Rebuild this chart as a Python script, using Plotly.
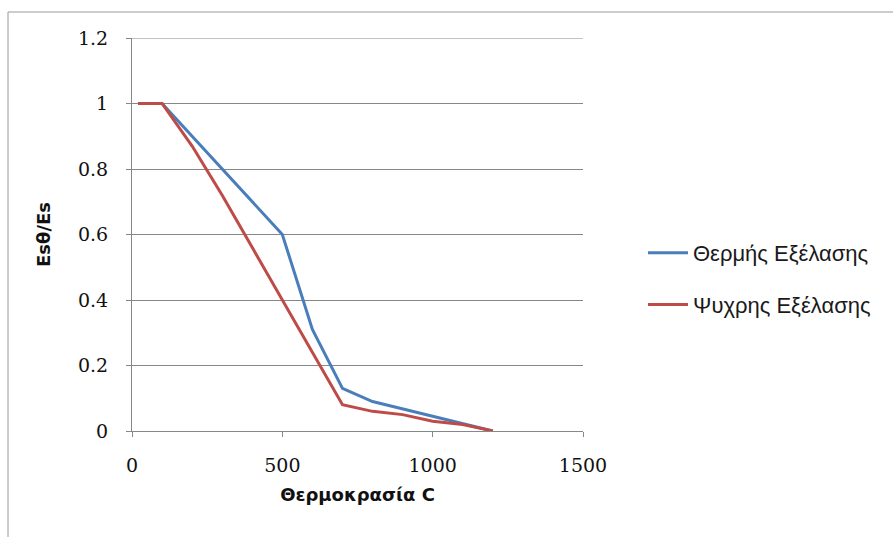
import plotly.graph_objects as go

# Temperature (°C) and stiffness reduction factor Esθ/Es
temperature = [20, 100, 200, 300, 400, 500, 600, 700, 800, 900, 1000, 1100, 1200]
hot_rolled = [1.0, 1.0, 0.9, 0.8, 0.7, 0.6, 0.31, 0.13, 0.09, 0.0675, 0.045, 0.0225, 0.0]
cold_worked = [1.0, 1.0, 0.87, 0.72, 0.56, 0.40, 0.24, 0.08, 0.06, 0.05, 0.03, 0.02, 0.0]
series_names = ["Θερμής Εξέλασης", "Ψυχρης Εξέλασης"]
x_ticks = [0, 500, 1000, 1500]
y_ticks = [0, 0.2, 0.4, 0.6, 0.8, 1.0, 1.2]
y_tick_text = ["0", "0.2", "0.4", "0.6", "0.8", "1", "1.2"]
x_range = [0, 1500]
y_range = [0, 1.2]

W, H = 893, 537
L, R, T, B = 132, 583, 38, 431

fig = go.Figure()
fig.add_trace(go.Scatter(x=temperature, y=hot_rolled, mode="lines", name=series_names[0],
                         legendgroup="a", line=dict(color="#4A7EBB", width=3)))
fig.add_trace(go.Scatter(x=temperature, y=cold_worked, mode="lines", name=series_names[1],
                         legendgroup="b", line=dict(color="#BE4B48", width=3)))

gray = "#878787"
tick_font = dict(family="DejaVu Serif, serif", size=19, color="#111")
title_font = dict(family="DejaVu Sans, sans-serif", size=18, color="#111", weight="bold")

fig.update_layout(
    width=W, height=H,
    margin=dict(l=L, r=W - R, t=T, b=H - B, pad=0),
    paper_bgcolor="white", plot_bgcolor="white",
    showlegend=True,
    legend=dict(x=(643 - L) / (R - L), y=(B - 279) / (B - T), xanchor="left", yanchor="middle",
                font=dict(family="Liberation Sans, sans-serif", size=22, color="#1a1a1a"),
                tracegroupgap=20, itemwidth=40, bgcolor="rgba(0,0,0,0)"),
    xaxis=dict(range=x_range, tickvals=x_ticks, showgrid=False, zeroline=False,
               showline=True, linecolor=gray, linewidth=1,
               ticks="outside", ticklen=5, tickcolor=gray, ticklabelstandoff=12,
               tickfont=tick_font,
               title=dict(text="Θερμοκρασία C", standoff=13, font=title_font)),
    yaxis=dict(range=y_range, tickvals=y_ticks, ticktext=y_tick_text, showgrid=True,
               gridcolor=gray, gridwidth=1, zeroline=False,
               showline=True, linecolor=gray, linewidth=1,
               ticks="outside", ticklen=5, tickcolor=gray, ticklabelstandoff=14,
               tickfont=tick_font,
               title=dict(text="Esθ/Es", standoff=22, font=title_font)),
)

# Top gridline at the upper end of the value axis
fig.add_shape(type="line", xref="paper", yref="y", x0=0, x1=1, y0=y_range[1], y1=y_range[1],
              line=dict(color=gray, width=1))

# Chart area border
px = lambda p: (p - L) / (R - L)
py = lambda p: (B - p) / (B - T)
fig.add_shape(type="rect", xref="paper", yref="paper",
              x0=px(8), x1=px(905), y0=py(550), y1=py(12),
              line=dict(color="#9a9a9a", width=1), layer="below")

fig.write_html("out.html")
